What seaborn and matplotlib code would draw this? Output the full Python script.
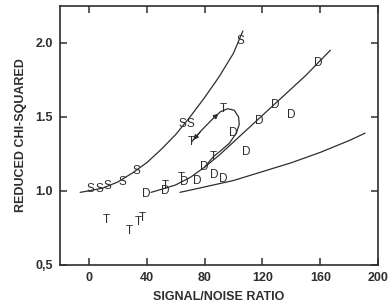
import matplotlib
matplotlib.use("Agg")
import matplotlib.pyplot as plt
import numpy as np
import pandas as pd
import seaborn as sns

# points (letter markers)
s_x = [1, 7, 13, 23, 33, 65, 70, 104.5]
s_y = [1.01, 1.01, 1.03, 1.06, 1.135, 1.45, 1.45, 2.01]

t_x = [12, 28, 34, 37, 53, 64, 71, 93, 86]
t_y = [0.80, 0.73, 0.79, 0.82, 1.03, 1.09, 1.33, 1.55, 1.23]

d_x = [40, 53, 66, 75, 80, 87, 93, 100, 109, 118, 129, 140, 158.5]
d_y = [0.98, 1.00, 1.06, 1.07, 1.16, 1.11, 1.08, 1.39, 1.26, 1.47, 1.58, 1.51, 1.865]

# fitted curves
s_fit_x = [-6, 0, 10, 20, 30, 40, 50, 60, 70, 80, 90, 100, 106.5]
s_fit_y = [0.99, 1.0, 1.02, 1.06, 1.12, 1.19, 1.28, 1.38, 1.50, 1.63, 1.77, 1.93, 2.08]

d_fit_x = [43, 50, 60, 70, 80, 90, 100, 110, 120, 130, 140, 150, 160, 167]
d_fit_y = [0.99, 1.01, 1.04, 1.09, 1.16, 1.24, 1.33, 1.42, 1.51, 1.60, 1.69, 1.78, 1.88, 1.95]

b_fit_x = [63, 77, 100, 120, 140, 160, 180, 191]
b_fit_y = [0.99, 1.02, 1.07, 1.13, 1.19, 1.26, 1.34, 1.39]

t_loop_x = [71, 78, 85, 91, 96, 100.5, 103.5, 104, 102, 97, 91, 86, 80]
t_loop_y = [1.33, 1.41, 1.48, 1.535, 1.555, 1.545, 1.50, 1.45, 1.39, 1.32, 1.27, 1.23, 1.16]

x_ticks = [0, 40, 80, 120, 160, 200]
y_ticks = [0.5, 1.0, 1.5, 2.0]
y_tick_labels = ["0,5", "1.0", "1.5", "2.0"]

ink = "#2e2e2e"

sns.set_style("ticks")
plt.rcParams['font.family'] = ['Liberation Sans', 'DejaVu Sans']

fig = plt.figure(figsize=(3.89, 3.08), dpi=100, facecolor='w')
ax = fig.add_axes([0.154, 0.140, 0.818, 0.841])

for fx, fy in [(s_fit_x, s_fit_y), (d_fit_x, d_fit_y), (b_fit_x, b_fit_y), (t_loop_x, t_loop_y)]:
    df = pd.DataFrame({"x": fx, "y": fy})
    sns.lineplot(data=df, x="x", y="y", sort=False, estimator=None, errorbar=None,
                 color=ink, lw=0.9, ax=ax)

# arrow heads on the T loop
ax.annotate("", xy=(t_loop_x[3], t_loop_y[3]), xytext=(t_loop_x[2], t_loop_y[2]),
            arrowprops=dict(arrowstyle="-|>", color=ink, lw=0.9, mutation_scale=7))
ax.annotate("", xy=(t_loop_x[0], t_loop_y[0]), xytext=(t_loop_x[1], t_loop_y[1]),
            arrowprops=dict(arrowstyle="-|>", color=ink, lw=0.9, mutation_scale=7))

for letter, xs, ys in [("S", s_x, s_y), ("T", t_x, t_y), ("D", d_x, d_y)]:
    for x, y in zip(xs, ys):
        ax.text(x, y, letter, ha='center', va='center', fontsize=8.5, color=ink)

ax.set_xlim(-20, 200)
ax.set_ylim(0.5, 2.25)
ax.set_xticks(x_ticks)
ax.set_xticklabels([str(v) for v in x_ticks])
ax.set_yticks(y_ticks)
ax.set_yticklabels(y_tick_labels)
ax.tick_params(axis='both', which='major', direction='in', length=5, width=1.1,
               top=True, right=True, labelsize=9, colors=ink, pad=5)
for lab in ax.get_xticklabels() + ax.get_yticklabels():
    lab.set_fontweight('bold')
for sp in ax.spines.values():
    sp.set_linewidth(1.2)
    sp.set_color(ink)

ax.set_xlabel("SIGNAL/NOISE RATIO", fontsize=9, fontweight='bold', color=ink, labelpad=5)
ax.set_ylabel("REDUCED CHI-SQUARED", fontsize=9, fontweight='bold', color=ink, labelpad=6)

plt.savefig("out.png", dpi=100, facecolor='w')
plt.close("all")
